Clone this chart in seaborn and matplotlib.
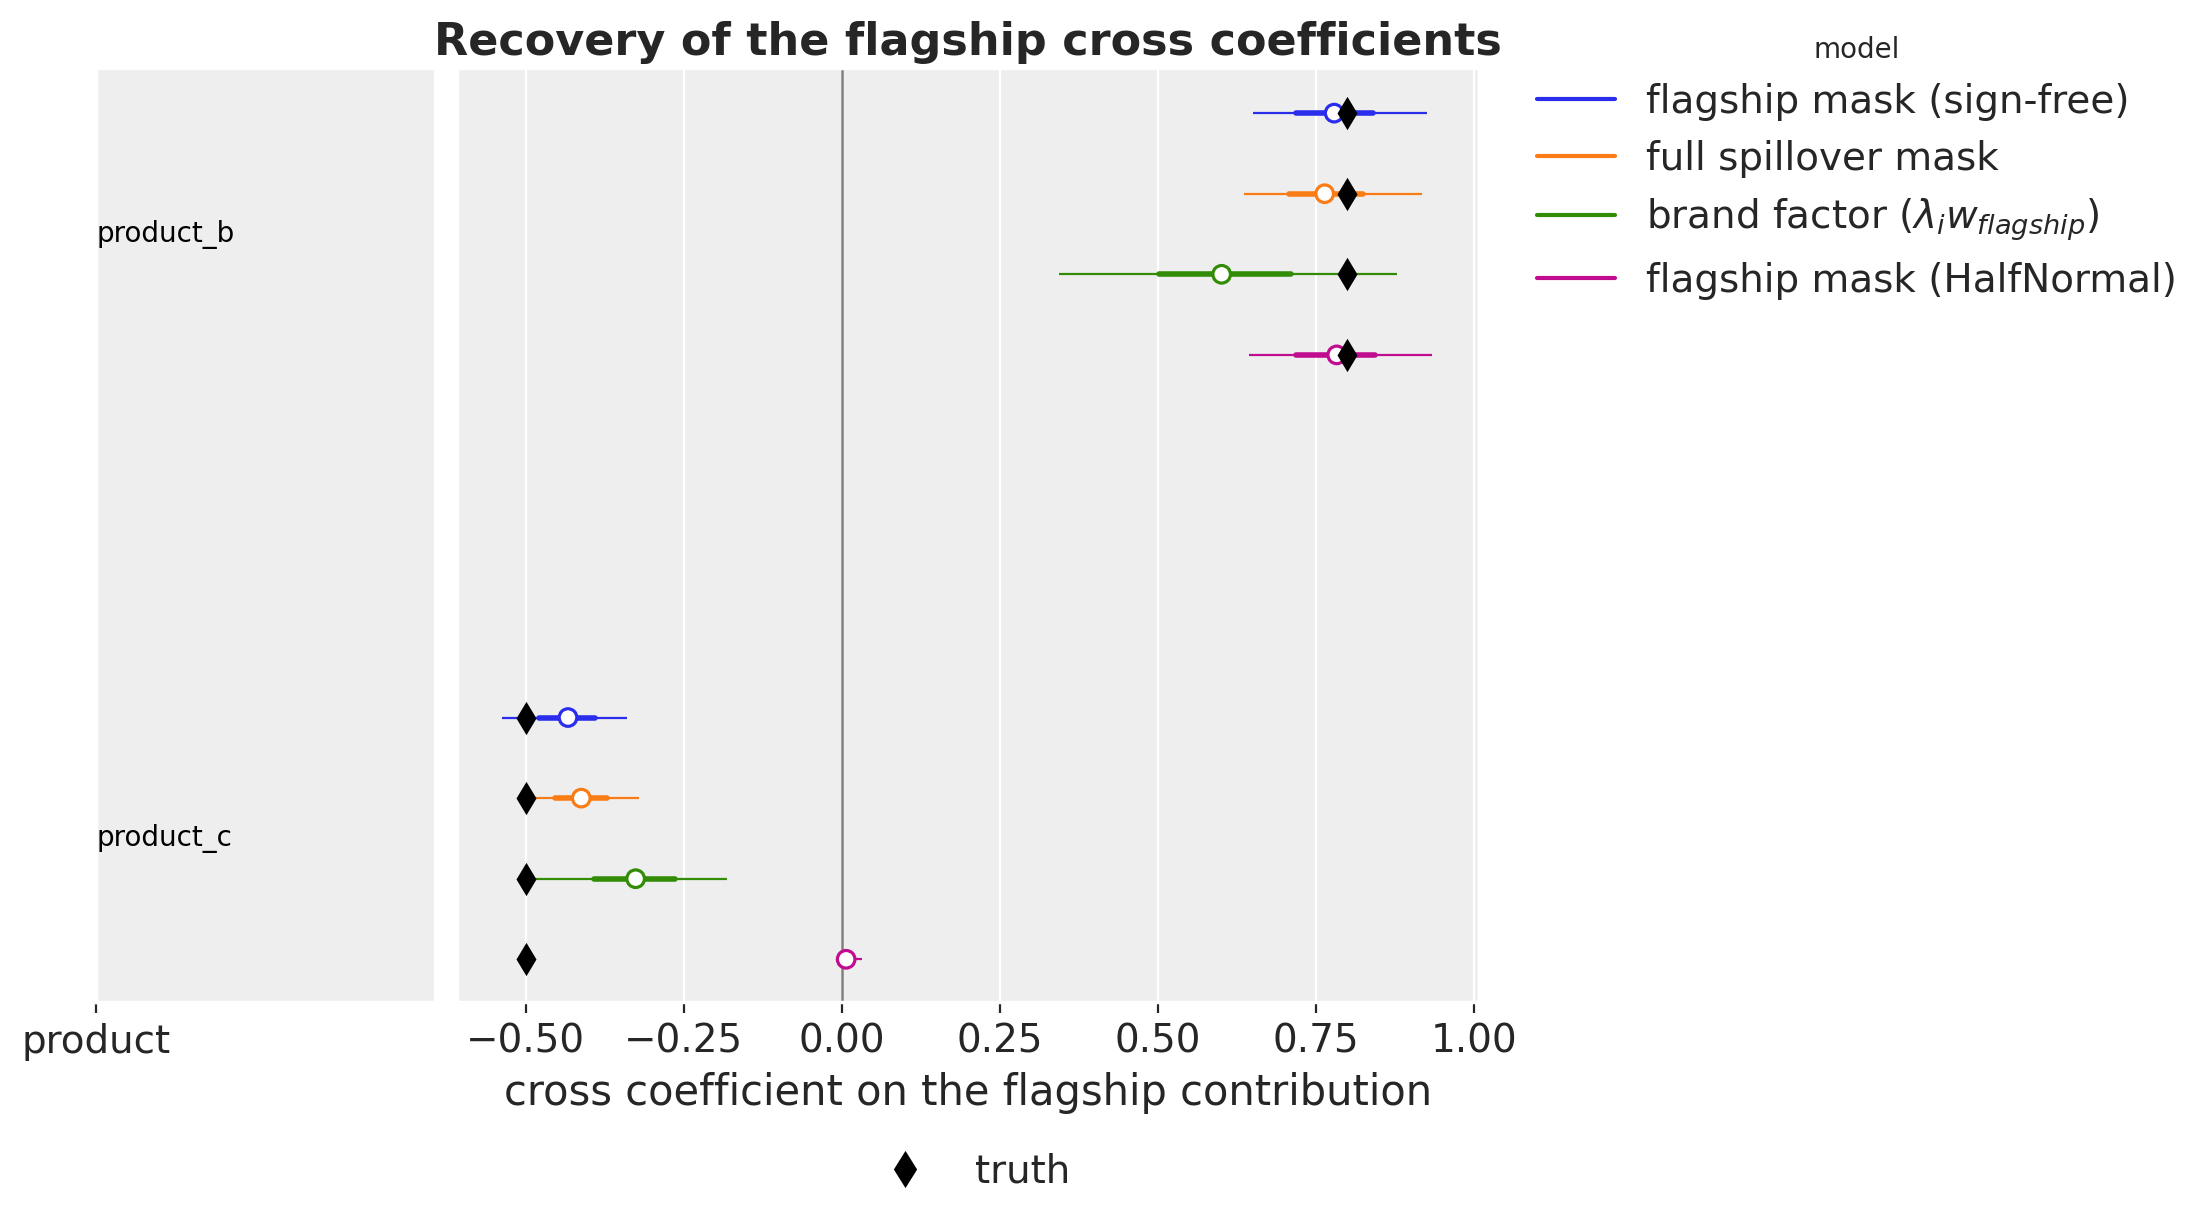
import numpy as np
import pandas as pd
import matplotlib
matplotlib.use("Agg")
import matplotlib.pyplot as plt
import seaborn as sns
from matplotlib.lines import Line2D

# ---------------- data ----------------
products = ["product_b", "product_c"]
models = [
    "flagship mask (sign-free)",
    "full spillover mask",
    r"brand factor ($\lambda_i w_{flagship}$)",
    "flagship mask (HalfNormal)",
]
truth_vals = [0.80, -0.50]

median_b = [0.779, 0.764, 0.601, 0.783]
hdi_lo_b = [0.650, 0.637, 0.344, 0.644]
hdi_hi_b = [0.926, 0.918, 0.878, 0.934]
q25_b = [0.719, 0.707, 0.502, 0.719]
q75_b = [0.840, 0.824, 0.710, 0.843]

median_c = [-0.433, -0.412, -0.326, 0.007]
hdi_lo_c = [-0.537, -0.495, -0.490, 0.000]
hdi_hi_c = [-0.340, -0.320, -0.182, 0.032]
q25_c = [-0.479, -0.453, -0.392, 0.003]
q75_c = [-0.391, -0.371, -0.264, 0.013]

xticks = [-0.50, -0.25, 0.00, 0.25, 0.50, 0.75, 1.00]

palette = ["#2a2eec", "#fa7c17", "#328c06", "#c10c90"]

# ---------------- style ----------------
sns.set_theme(style="darkgrid", rc={
    "axes.facecolor": "#eeeeee",
    "grid.color": "white",
    "grid.linewidth": 0.8,
    "xtick.bottom": True,
    "xtick.major.size": 4,
    "xtick.major.width": 0.8,
    "xtick.color": "#262626",
    "text.color": "#262626",
    "axes.labelcolor": "#262626",
})
plt.rcParams["font.family"] = ["DejaVu Sans"]

# ---------------- table ----------------
stats = {
    "product_b": (median_b, hdi_lo_b, hdi_hi_b, q25_b, q75_b),
    "product_c": (median_c, hdi_lo_c, hdi_hi_c, q25_c, q75_c),
}
gap = len(models) + 3.5
rows = []
for gi, p in enumerate(products):
    med, lo, hi, qa, qb = stats[p]
    for mi, m in enumerate(models):
        rows.append(dict(product=p, model=m, y=gi * gap + mi,
                         median=med[mi], lo=lo[mi], hi=hi[mi],
                         q25=qa[mi], q75=qb[mi], truth=truth_vals[gi],
                         color=palette[mi]))
df = pd.DataFrame(rows)

# ---------------- figure ----------------
fig = plt.figure(figsize=(11.06, 6.115), dpi=200)
axl = fig.add_axes([0.0434, 0.1807, 0.1533, 0.7637])
ax = fig.add_axes([0.2066, 0.1807, 0.462, 0.7637], sharey=axl)

ax.axvline(0, color="#808080", lw=0.9, zorder=2)
ax.hlines(df["y"], df["lo"], df["hi"], colors=df["color"], lw=0.8, zorder=3)
ax.hlines(df["y"], df["q25"], df["q75"], colors=df["color"], lw=2.0,
          capstyle="round", zorder=3)
ax.scatter(df["median"], df["y"], s=40, facecolors="white",
           edgecolors=df["color"], linewidths=1.15, zorder=4)
sns.scatterplot(data=df, x="truth", y="y", marker="d", color="black",
                s=72, linewidth=0, ax=ax, zorder=5, legend=False)

ax.set_xlim(-0.6086, 1.008)
ax.set_ylim(len(products) * gap - 3.5 - 1 + 0.53, -0.56)
ax.set_xticks(xticks)
ax.set_yticks([])
ax.grid(axis="y", visible=False)
ax.grid(axis="x", color="white")
ax.tick_params(axis="x", labelsize=14)
ax.set_xlabel("cross coefficient on the flagship contribution", fontsize=15)
ax.set_ylabel("")
ax.set_title("Recovery of the flagship cross coefficients", fontsize=16,
             fontweight="bold", pad=4.5)

# label panel
axl.grid(False)
axl.set_xlim(0, 1)
axl.set_xticks([0])
axl.set_xticklabels(["product"])
axl.tick_params(axis="x", labelsize=14)
for gi, p in enumerate(products):
    yc = df.loc[df["product"] == p, "y"].mean()
    axl.text(0, yc, p, ha="left", va="center", fontsize=10, color="black")

# legends
handles = [Line2D([], [], color=c, lw=1.5) for c in palette]
fig.legend(handles, models, title="model", loc="upper left",
           bbox_to_anchor=(0.679, 0.999), frameon=False, fontsize=14,
           title_fontsize=10, labelspacing=0.48)
th = Line2D([], [], marker="d", color="black", ls="", markersize=8.4)
ax.legend([th], ["truth"], loc="upper center", bbox_to_anchor=(0.5, -0.124),
          frameon=False, fontsize=14)

fig.savefig("out.png", dpi=200)
